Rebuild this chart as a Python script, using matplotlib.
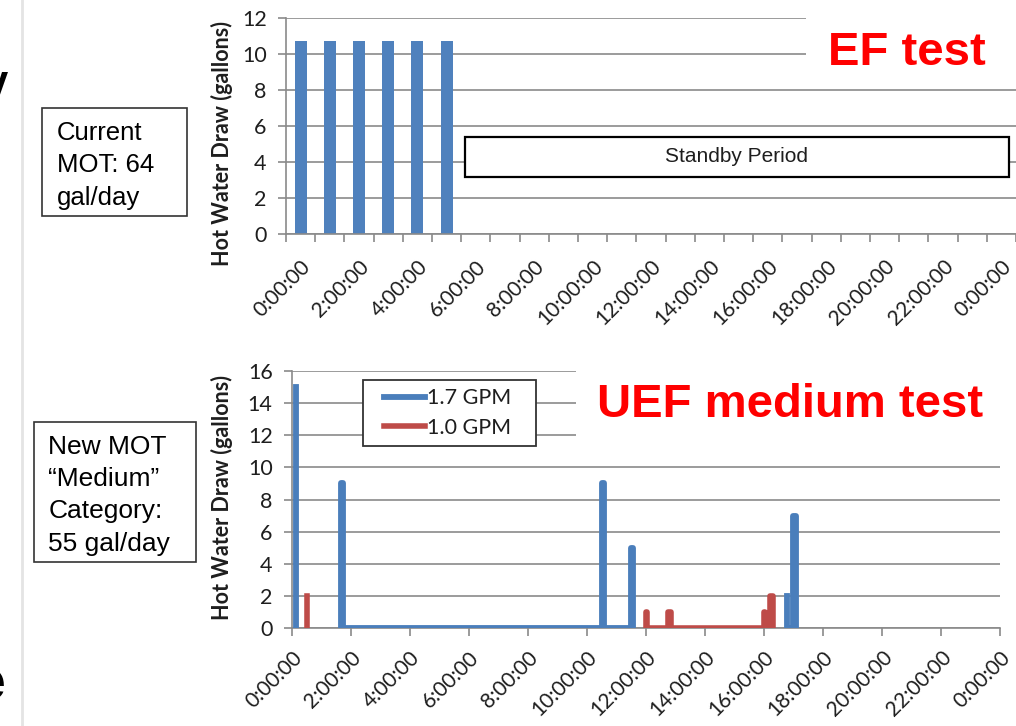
import numpy as np
import matplotlib
matplotlib.use("Agg")
import matplotlib.pyplot as plt
from matplotlib.patches import Rectangle
from matplotlib.lines import Line2D

# ------------------------------------------------------------------ data
# EF test: six equal draws, one per hourly slot
ef_slots = [0, 1, 2, 3, 4, 5]
ef_draws = [10.7, 10.7, 10.7, 10.7, 10.7, 10.7]
ef_tick_labels = ["0:00:00", "2:00:00", "4:00:00", "6:00:00", "8:00:00", "10:00:00",
                  "12:00:00", "14:00:00", "16:00:00", "18:00:00", "20:00:00",
                  "22:00:00", "0:00:00"]

# UEF medium test, traced draw profile (hours, gallons); nan = gap in the line
gpm17_t = [0.12, 0.12, np.nan,
           1.645, 1.645, 1.735, 1.735, 10.50, 10.50, 10.58, 10.58,
           11.485, 11.485, 11.55, 11.55, np.nan,
           16.77, 16.77, 16.99, 16.99, 17.08, 17.08]
gpm17_v = [15, 0, np.nan,
           0, 9, 9, 0, 0, 9, 9, 0,
           0, 5, 5, 0, np.nan,
           2, 0, 0, 7, 7, 0]
gpm10_t = [0.50, 0.50, np.nan,
           11.99, 11.99, 12.02, 12.02, 12.75, 12.75, 12.86, 12.86,
           16.00, 16.00, 16.02, 16.02, 16.22, 16.22, 16.29, 16.29]
gpm10_v = [2, 0, np.nan,
           0, 1, 1, 0, 0, 1, 1, 0,
           0, 1, 1, 0, 0, 2, 2, 0]
uef_ticks = [0, 2, 4, 6, 8, 10, 12, 14, 16, 18, 20, 22, 24]
uef_tick_labels = ef_tick_labels

box1_lines = ["Current", "MOT: 64", "gal/day"]
box2_lines = ["New MOT", "\u201cMedium\u201d", "Category:", "55 gal/day"]

# ------------------------------------------------------------------ layout
W, H = 1016, 726
fx = lambda px: px / W
fy = lambda py: 1 - py / H

GRID = "#8a8a8a"
TXT = "#1e1e1e"
BLUE_BAR = "#4F81BD"
BLUE = "#4A7EBB"
RED = "#BE4B48"
TICKFONT = dict(family="Lato", size=15, color=TXT)

fig = plt.figure(figsize=(W / 100, H / 100), dpi=100)

def style_axes(ax):
    for s in ("top", "right"):
        ax.spines[s].set_visible(False)
    for s in ("left", "bottom"):
        ax.spines[s].set_color(GRID)
        ax.spines[s].set_linewidth(1.2)
    ax.yaxis.grid(True, color=GRID, lw=1.2)
    ax.set_axisbelow(True)
    ax.tick_params(axis="y", direction="out", length=6, width=1.2, color=GRID,
                   pad=8, labelcolor=TXT)
    for lab in ax.get_yticklabels():
        lab.set_fontfamily("Lato"); lab.set_fontsize(15.5)

# ---- top: EF test
ax1 = fig.add_axes([fx(286), fy(234), fx(1016) - fx(286), (234 - 18) / H])
ax1.bar(np.array(ef_slots) + 0.5, ef_draws, width=0.41, color=BLUE_BAR, zorder=2)
ax1.set_xlim(0, 25)
ax1.set_ylim(0, 12)
ax1.set_yticks(range(0, 13, 2))
ax1.set_xticks(np.arange(0, 26), minor=True)
ax1.set_xticks(np.arange(0, 25, 2) + 0.5)
ax1.set_xticklabels(ef_tick_labels, rotation=45, ha="right", va="top",
                    rotation_mode="anchor", **TICKFONT)
ax1.tick_params(axis="x", which="major", length=0, pad=16)
ax1.tick_params(axis="x", which="minor", length=6, width=1.2, color=GRID)
style_axes(ax1)

ax1.add_patch(Rectangle((6.13, 3.18), 18.64, 2.23, facecolor="white",
                        edgecolor="black", lw=1.6, zorder=4))
ax1.text(15.43, 4.3, "Standby Period", ha="center", va="center",
         family="Liberation Sans", fontsize=15, color=TXT, zorder=5)

# ---- bottom: UEF medium test
ax2 = fig.add_axes([fx(292), fy(628), (1000 - 292) / W, (628 - 371) / H])
l17, = ax2.plot(gpm17_t, gpm17_v, color=BLUE, lw=4.2, solid_joinstyle="round", zorder=3)
l10, = ax2.plot(gpm10_t, gpm10_v, color=RED, lw=4.0, solid_joinstyle="round", zorder=3)
ax2.set_xlim(0, 24)
ax2.set_ylim(0, 16)
ax2.set_yticks(range(0, 17, 2))
ax2.set_xticks(uef_ticks)
ax2.set_xticklabels(uef_tick_labels, rotation=45, ha="right", va="top",
                    rotation_mode="anchor", **TICKFONT)
ax2.tick_params(axis="x", length=6, width=1.2, color=GRID, pad=8)
style_axes(ax2)

# ---- white masks behind the red titles
fig.patches.append(Rectangle((fx(806), fy(82)), fx(1016) - fx(806), (82 - 4) / H,
                             transform=fig.transFigure, facecolor="white",
                             edgecolor="none", zorder=1.5))
fig.patches.append(Rectangle((fx(576), fy(452)), fx(1016) - fx(576), (452 - 362) / H,
                             transform=fig.transFigure, facecolor="white",
                             edgecolor="none", zorder=1.5))
fig.text(fx(828), fy(65), "EF test", color="#FF0000", fontsize=34, weight="bold",
         family="Liberation Sans", va="baseline", zorder=4)
fig.text(fx(597), fy(417), "UEF medium test", color="#FF0000", fontsize=34,
         weight="bold", family="Liberation Sans", va="baseline", zorder=4)

# ---- legend (frame drawn separately to match the wide Excel padding)
fig.patches.append(Rectangle((fx(362.7), fy(445.7)), fx(536) - fx(362.7),
                             (445.7 - 380) / H, transform=fig.transFigure,
                             facecolor="white", edgecolor="#333333", lw=1.3, zorder=2))
fig.legend([l17, l10], ["1.7 GPM", "1.0 GPM"], loc="center left",
           bbox_to_anchor=(fx(384), fy(413)), bbox_transform=fig.transFigure,
           frameon=False, prop=dict(family="Lato", size=15.5), handlelength=1.9,
           handletextpad=0.12, labelspacing=0.45, borderpad=0, borderaxespad=0,
           labelcolor=TXT)

# ---- y labels
for yc in (144, 498):
    fig.text(fx(222), fy(yc), "Hot Water Draw (gallons)", rotation=90, ha="center",
             va="center", family="Lato", weight="bold", fontsize=15.5, color=TXT)

# ---- left text boxes
fig.patches.append(Rectangle((fx(41.7), fy(216)), fx(187.3) - fx(41.7), (216 - 108.3) / H,
                             transform=fig.transFigure, facecolor="none",
                             edgecolor="#333333", lw=1.2))
for i, s in enumerate(box1_lines):
    fig.text(fx(56.7), fy(140 + 32.5 * i), s, family="Liberation Sans", fontsize=18.5,
             color="black", va="baseline")
fig.patches.append(Rectangle((fx(34.3), fy(561.7)), fx(196) - fx(34.3), (561.7 - 421.7) / H,
                             transform=fig.transFigure, facecolor="none",
                             edgecolor="#333333", lw=1.2))
for i, s in enumerate(box2_lines):
    fig.text(fx(48.3), fy(454 + 32.2 * i), s, family="Liberation Sans", fontsize=19,
             color="black", va="baseline")

# ---- slide remnants at the left edge (clipped in the source as well)
fig.lines.append(Line2D([fx(22), fx(22)], [0, 1], transform=fig.transFigure,
                        color="#e4e4e4", lw=2))
fig.text(fx(8), fy(95), "v", family="Liberation Sans", weight="bold", fontsize=30,
         ha="right", va="baseline", color="black")
fig.text(fx(6), fy(700), "e", family="Liberation Sans", weight="bold", fontsize=40,
         ha="right", va="baseline", color="black")

fig.savefig("out.png", dpi=100)
